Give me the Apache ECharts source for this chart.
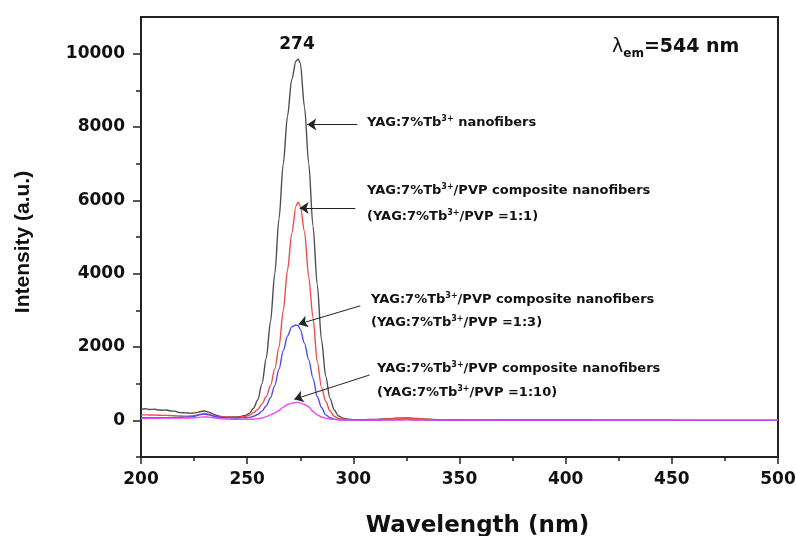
<!DOCTYPE html>
<html><head><meta charset="utf-8">
<script src="https://cdn.jsdelivr.net/npm/echarts@6/dist/echarts.min.js"></script>
<style>html,body{margin:0;padding:0;background:#fff}#c{width:796px;height:536px}</style>
</head><body><div id="c"></div>
<script>
// Excitation spectra (lambda_em = 544 nm)
const wavelength = [200,202,204,206,208,210,212,214,216,218,220,222,224,226,228,230,232,234,236,238,240,
  243,246,249,
  251,253,255,257,259,261,263,265,267,269,271,273,
  274,
  275,277,279,281,283,285,287,289,291,293,295,
  298,300,
  305,310,315,320,325,330,335,340,
  350,360,380,400,420,440,460,480,500];

const yagNanofibers = [300,315,295,305,285,275,280,255,250,215,205,200,195,210,240,255,225,170,125,100,90,
  90,100,130,
  190,330,560,1000,1700,2700,4000,5500,7000,8300,9300,9800,
  9850,
  9750,8550,7000,5300,3700,2200,1200,600,280,120,60,
  30,20,
  20,25,35,55,65,50,30,20,
  15,10,8,5,3,2,0,0,0];

const pvp1to1 = [150,150,145,145,140,135,135,130,125,120,115,115,120,140,170,185,165,125,100,90,85,
  80,85,100,
  140,210,300,450,650,950,1400,2000,3000,4100,5100,5850,
  5950,
  5850,5150,3900,2800,1600,900,520,260,110,50,30,
  20,15,
  15,20,30,50,60,45,25,15,
  10,8,5,3,2,0,0,0,0];

const pvp1to3 = [70,72,70,72,70,72,75,75,78,80,85,90,100,125,155,170,150,115,90,80,70,
  65,65,70,
  80,110,160,250,400,620,950,1400,1900,2300,2550,2600,
  2580,
  2480,2100,1650,1150,650,350,150,70,30,20,15,
  10,10,
  10,10,12,15,20,15,10,8,
  5,5,3,2,0,0,0,0,0];

const pvp1to10 = [50,52,55,55,58,60,60,60,60,60,62,62,65,75,88,95,88,72,58,45,35,
  30,25,25,
  28,35,45,65,100,150,200,270,360,430,470,490,
  490,
  475,430,370,240,150,90,55,35,25,15,10,
  8,5,
  5,5,8,12,15,10,5,5,
  5,5,5,5,5,5,5,5,5];

const yTickLabels = [0,2000,4000,6000,8000,10000];
const yMinorTicks = [-1000,1000,3000,5000,7000,9000];
const seriesNames = ['YAG:7%Tb3+ nanofibers','YAG:7%Tb3+/PVP (1:1)','YAG:7%Tb3+/PVP (1:3)','YAG:7%Tb3+/PVP (1:10)'];

const pairs = ys => wavelength.map((x, i) => [x, ys[i]]);

const chart = echarts.init(document.getElementById('c'), null, {renderer: 'canvas'});

const axisColor = '#222';
const tickFont = {fontFamily: '"DejaVu Sans"', fontWeight: 'bold', fontSize: 17, color: '#111'};

function lineSeries(name, ys, color, extra) {
  return Object.assign({
    name, type: 'line', data: pairs(ys), showSymbol: false, symbol: 'none',
    smooth: 0.3, smoothMonotone: 'x',
    lineStyle: {color, width: 1.4}, itemStyle: {color},
    emphasis: {disabled: true}, silent: true, z: 3
  }, extra || {});
}

const annoFont = {fontFamily: '"DejaVu Sans"', fontWeight: 'bold', fontSize: 13, color: '#111'};
const annoRich = {
  a: Object.assign({}, annoFont, {lineHeight: 16}),
  s: {fontFamily: '"DejaVu Sans"', fontWeight: 'bold', fontSize: 8, color: '#111', verticalAlign: 'top', lineHeight: 10}
};
function anno(x, y, text) {
  return {type: 'text', x, y, silent: true, z: 10,
    style: {text, rich: annoRich, align: 'left', verticalAlign: 'middle', fill: '#111',
      font: 'bold 13px "DejaVu Sans"'}};
}

const option = {
  animation: false,
  backgroundColor: '#fff',
  grid: {left: 141, right: 18, top: 17, bottom: 79, show: true, borderColor: axisColor, borderWidth: 2,
    containLabel: false, outerBoundsMode: 'none'},
  xAxis: {
    type: 'value', min: 200, max: 500, interval: 50,
    axisLine: {show: true, onZero: false, lineStyle: {color: axisColor, width: 2}},
    axisTick: {show: true, length: 7, lineStyle: {color: axisColor, width: 1.5}},
    minorTick: {show: true, splitNumber: 2, length: 4, lineStyle: {color: axisColor, width: 1.5}},
    splitLine: {show: false}, minorSplitLine: {show: false},
    axisLabel: Object.assign({margin: 14}, tickFont),
    name: 'Wavelength (nm)', nameLocation: 'middle', nameGap: 58,
    nameTextStyle: {fontFamily: '"DejaVu Sans"', fontWeight: 'bold', fontSize: 23, color: '#111', padding: [0, 0, 0, 36]}
  },
  yAxis: [{
    type: 'value', min: -1000, max: 11000,
    axisLine: {show: true, onZero: false, lineStyle: {color: axisColor, width: 2}},
    axisTick: {show: true, length: 8, customValues: yTickLabels, lineStyle: {color: axisColor, width: 1.5}},
    axisLabel: Object.assign({margin: 16, customValues: yTickLabels, formatter: v => String(v)}, tickFont),
    splitLine: {show: false},
    name: 'Intensity (a.u.)', nameLocation: 'middle', nameGap: 107, nameRotate: 90,
    nameTextStyle: {fontFamily: '"Liberation Sans"', fontWeight: 'bold', fontSize: 21, color: '#111', padding: [0, 10, 0, 0]}
  }, {
    type: 'value', min: -1000, max: 11000, position: 'left',
    axisLine: {show: false, onZero: false},
    axisTick: {show: true, length: 5, customValues: yMinorTicks, lineStyle: {color: axisColor, width: 1.5}},
    axisLabel: {show: false}, splitLine: {show: false}
  }],
  series: [
    lineSeries(seriesNames[0], yagNanofibers, '#4d4d4d'),
    lineSeries(seriesNames[1], pvp1to1, '#f24b4b'),
    lineSeries(seriesNames[2], pvp1to3, '#4b4bf5'),
    lineSeries(seriesNames[3], pvp1to10, '#f048f0', {
      markLine: {
        silent: true, animation: false,
        symbol: ['none', 'arrow'], symbolSize: 9,
        label: {show: false},
        lineStyle: {color: '#222', width: 1, type: 'solid'},
        emphasis: {disabled: true},
        data: [
          [{coord: [301.9, 8068]}, {coord: [278.3, 8068]}],
          [{coord: [300.9, 5792]}, {coord: [274.7, 5792]}],
          [{coord: [303.3, 3123]}, {coord: [274.2, 2623]}],
          [{coord: [307.7, 1238]}, {coord: [272.2, 574]}]
        ]
      }
    })
  ],
  graphic: [
    anno(367, 123, '{a|YAG:7%Tb}{s|3+}{a| nanofibers}'),
    anno(367, 191, '{a|YAG:7%Tb}{s|3+}{a|/PVP composite nanofibers}'),
    anno(367, 217, '{a|(YAG:7%Tb}{s|3+}{a|/PVP =1:1)}'),
    anno(371, 300, '{a|YAG:7%Tb}{s|3+}{a|/PVP composite nanofibers}'),
    anno(371, 323, '{a|(YAG:7%Tb}{s|3+}{a|/PVP =1:3)}'),
    anno(377, 369, '{a|YAG:7%Tb}{s|3+}{a|/PVP composite nanofibers}'),
    anno(377, 393, '{a|(YAG:7%Tb}{s|3+}{a|/PVP =1:10)}'),
    {type: 'text', x: 297, y: 45, silent: true, z: 10,
      style: {text: '274', align: 'center', verticalAlign: 'middle', fill: '#111', font: 'bold 17px "DejaVu Sans"'}},
    {type: 'text', x: 612, y: 47, silent: true, z: 10,
      style: {text: '{l|λ}{e|em}{t|=544 nm}', align: 'left', verticalAlign: 'middle', fill: '#111',
        font: 'bold 19px "DejaVu Sans"',
        rich: {
          l: {fontFamily: '"DejaVu Sans"', fontSize: 19, color: '#111', lineHeight: 26},
          e: {fontFamily: '"DejaVu Sans"', fontWeight: 'bold', fontSize: 12, color: '#111', verticalAlign: 'bottom', lineHeight: 14},
          t: {fontFamily: '"DejaVu Sans"', fontWeight: 'bold', fontSize: 19, color: '#111', lineHeight: 26}
        }}}
  ]
};
chart.setOption(option);
</script>
</body></html>
